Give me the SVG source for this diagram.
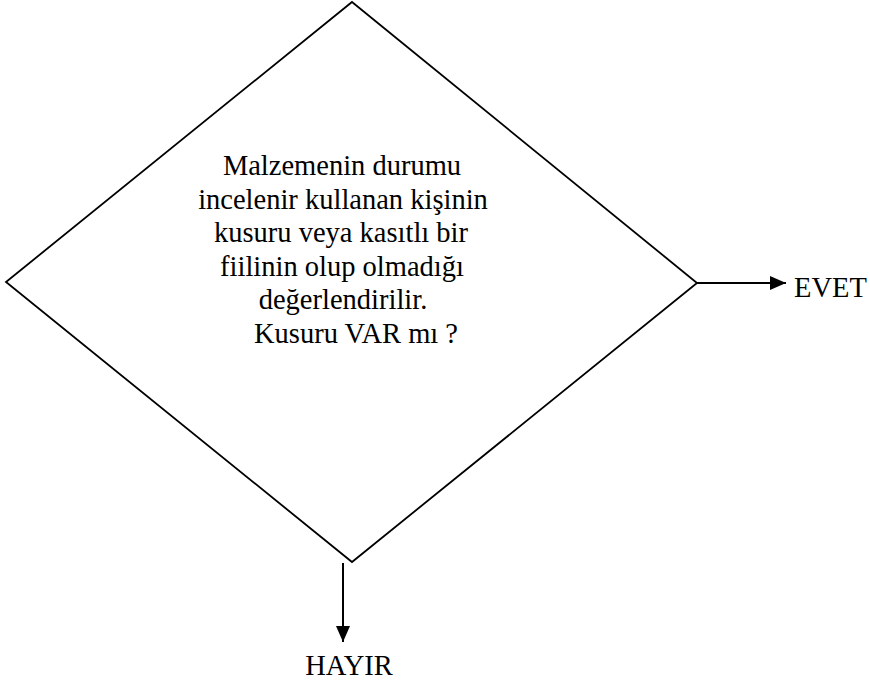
<svg xmlns="http://www.w3.org/2000/svg" width="870" height="684" viewBox="0 0 870 684">
<style>
.shape{fill:none;stroke:#000;stroke-width:1.8;stroke-linejoin:miter}
.conn{stroke:#000;stroke-width:2;fill:none}
.t{font-family:"Liberation Serif","Times New Roman",serif;font-size:28.5px;fill:#000}
.c{text-anchor:middle}
</style>
<defs>
<marker id="ah" markerUnits="userSpaceOnUse" markerWidth="16" markerHeight="14" refX="16" refY="7" orient="auto">
<path d="M0,0 L16,7 L0,14 Z" fill="#000"/>
</marker>
</defs>
<rect width="870" height="684" fill="#fff"/>
<g id="decision">
<path class="shape" d="M352,2 L697,283 L352,562 L6,282 Z"/>
<text class="t c" x="342" y="175">Malzemenin durumu</text>
<text class="t c" x="343" y="208.5">incelenir kullanan kişinin</text>
<text class="t c" x="341" y="242">kusuru veya kasıtlı bir</text>
<text class="t c" x="342" y="275.5">fiilinin olup olmadığı</text>
<text class="t c" x="343" y="309">değerlendirilir.</text>
<text class="t c" x="356" y="342.5">Kusuru VAR mı ?</text>
</g>
<g id="connectors">
<line class="conn" x1="697" y1="283" x2="786" y2="283" marker-end="url(#ah)"/>
<line class="conn" x1="343" y1="563" x2="343" y2="642" marker-end="url(#ah)"/>
</g>
<g id="evet">
<text class="t" x="794" y="297">EVET</text>
</g>
<g id="hayir">
<text class="t c" x="349" y="675">HAYIR</text>
</g>
</svg>
